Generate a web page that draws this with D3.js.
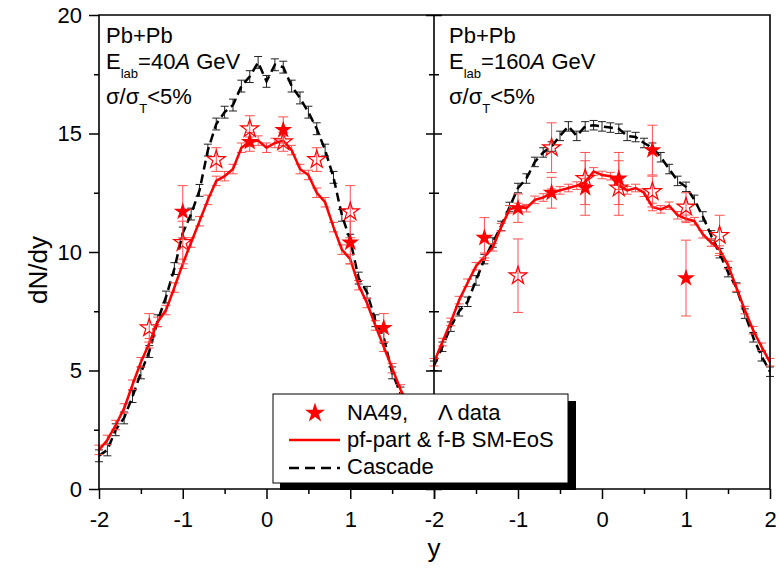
<!DOCTYPE html>
<html>
<head>
<meta charset="utf-8">
<script src="https://cdn.jsdelivr.net/npm/d3@7"></script>
<style>
body { margin: 0; background: #fff; }
svg text { font-family: "Liberation Sans", Arial, sans-serif; fill: #000; }
</style>
</head>
<body>
<div id="chart"></div>
<script>
//rapidity grid of the model curves
var rapidity = [-2.0, -1.9, -1.8, -1.7, -1.6, -1.5, -1.4, -1.3, -1.2, -1.1, -1.0, -0.9, -0.8, -0.7, -0.6, -0.5, -0.4, -0.3, -0.2, -0.1,
    0.0, 0.1, 0.2, 0.3, 0.4, 0.5, 0.6, 0.7, 0.8, 0.9, 1.0, 1.1, 1.2, 1.3, 1.4, 1.5, 1.6, 1.7, 1.8, 1.9, 2.0];

//40A GeV model curves
var cascade40 = [1.4, 1.65, 2.5, 3.0, 3.9, 4.9, 5.8, 7.1, 8.1, 9.3, 10.8, 11.6, 12.6, 14.3, 15.4, 15.9, 16.2, 17.0, 17.4, 18.0,
    17.2, 17.9, 17.8, 17.0, 16.5, 15.9, 15.2, 14.3, 13.15, 11.55, 10.5, 8.9, 8.3, 7.1, 6.4, 4.9, 4.05, 3.3, 2.6, 2.0, 1.5];
var pfpart40 = [1.65, 2.07, 2.7, 3.4, 4.4, 5.35, 6.15, 7.05, 7.55, 8.5, 9.5, 10.4, 11.3, 12.2, 13.0, 13.2, 13.5, 14.4, 14.65, 14.7,
    14.4, 14.6, 14.7, 14.3, 13.5, 13.25, 12.5, 12.1, 11.05, 10.1, 9.7, 8.6, 7.85, 6.9, 6.0, 5.1, 4.2, 3.5, 2.8, 2.2, 1.7];
var cascadeErr40 = 0.25;
var pfpartErr40 = 0.2;

//160A GeV model curves
var cascade160 = [5.2, 6.0, 6.85, 7.5, 7.9, 8.8, 9.7, 10.4, 11.1, 11.9, 12.7, 13.1, 13.8, 14.2, 14.45, 14.9, 15.3, 14.9, 15.3, 15.35,
    15.3, 15.25, 15.2, 14.9, 14.85, 14.6, 14.4, 14.0, 13.5, 13.0, 12.75, 12.2, 11.5, 10.7, 9.95, 9.15, 8.5, 7.4, 6.4, 5.6, 4.95];
var pfpart160 = [5.35, 6.2, 7.05, 7.97, 8.7, 9.4, 9.8, 10.2, 11.05, 11.8, 11.9, 11.85, 12.2, 12.3, 12.5, 12.6, 12.7, 12.8, 12.95, 13.4,
    13.25, 13.2, 12.8, 12.6, 12.7, 12.5, 11.9, 11.8, 11.95, 11.55, 11.4, 11.3, 10.75, 10.4, 10.1, 9.45, 8.5, 7.55, 6.7, 6.0, 5.35];
var cascadeErr160 = 0.2;
var pfpartErr160 = 0.16;

//NA49 Lambda data, 40A GeV (full = measured, open = reflected)
var na49FullY40 = [-1.0, -0.2, 0.2, 1.0, 1.4];
var na49FullV40 = [11.7, 14.65, 15.15, 10.4, 6.8];
var na49FullE40 = [1.1, 0.4, 0.55, 0.9, 0.6];
var na49OpenY40 = [-1.4, -1.0, -0.6, -0.2, 0.2, 0.6, 1.0];
var na49OpenV40 = [6.8, 10.4, 13.9, 15.2, 14.65, 13.9, 11.7];
var na49OpenE40 = [0.6, 0.9, 0.5, 0.55, 0.4, 0.5, 1.1];

//NA49 Lambda data, 160A GeV
var na49FullY160 = [-1.4, -1.0, -0.6, -0.2, 0.2, 0.6, 1.0];
var na49FullV160 = [10.6, 11.85, 12.5, 12.7, 13.1, 14.3, 8.9];
var na49FullE160 = [0.85, 0.6, 0.65, 1.15, 1.1, 1.05, 1.6];
var na49OpenY160 = [-1.0, -0.6, -0.2, 0.2, 0.6, 1.0, 1.4];
var na49OpenV160 = [9.0, 14.4, 13.1, 12.7, 12.55, 11.9, 10.7];
var na49OpenE160 = [1.55, 1.05, 1.1, 1.15, 0.65, 0.6, 0.85];

//ticks
var yTicks = [0, 5, 10, 15, 20];
var yMinorTicks = [2.5, 7.5, 12.5, 17.5];
var xTicks = [-2, -1, 0, 1, 2];
var xMinorTicks = [-1.5, -0.5, 0.5, 1.5];

var svg = d3.select("#chart").append("svg").attr("width", 779).attr("height", 577);

var y = d3.scaleLinear().domain([0, 20]).range([489, 15]);

var red = "#ff0000";
var redBar = "#ff5050";

//draw vertical error bars with caps
function error_bars(g, xs, vs, es, x, color, capW) {
    var rows = d3.zip(xs, vs, es);
    var bars = g.append("g").attr("stroke", color).attr("stroke-width", 1).attr("fill", "none");
    bars.selectAll("path")
        .data(rows)
        .enter()
        .append("path")
        .attr("d", function (d) {
            var px = x(d[0]), top = y(d[1] + d[2]), bot = y(d[1] - d[2]);
            return "M" + px + "," + top + "V" + bot +
                "M" + (px - capW / 2) + "," + top + "h" + capW +
                "M" + (px - capW / 2) + "," + bot + "h" + capW;
        });
}

function style_axis(a) {
    a.select(".domain").remove();
    a.selectAll(".tick line").attr("stroke", "#000").attr("stroke-width", 1.5);
    a.selectAll("text").attr("font-size", 22).attr("fill", "#000")
        .attr("font-family", "'Liberation Sans', Arial, sans-serif");
}

function draw_panel(x0, x1, cascade, cErr, pfpart, pErr, fullY, fullV, fullE, openY, openV, openE, energy, xLabels) {
    var x = d3.scaleLinear().domain([-2, 2]).range([x0, x1]);
    var g = svg.append("g");

    //cascade (black dashed)
    error_bars(g, rapidity, cascade, rapidity.map(function () { return cErr; }), x, "#222", 8);
    var line = d3.line()
        .x(function (d, i) { return x(rapidity[i]); })
        .y(function (d) { return y(d); });
    g.append("path")
        .datum(cascade)
        .attr("d", line)
        .attr("fill", "none")
        .attr("stroke", "#000")
        .attr("stroke-width", 2.5)
        .attr("stroke-dasharray", "9,5");

    //pf-part (red solid)
    error_bars(g, rapidity, pfpart, rapidity.map(function () { return pErr; }), x, redBar, 9);
    g.append("path")
        .datum(pfpart)
        .attr("d", line)
        .attr("fill", "none")
        .attr("stroke", red)
        .attr("stroke-width", 2.5);

    //NA49 stars
    error_bars(g, openY, openV, openE, x, redBar, 10);
    error_bars(g, fullY, fullV, fullE, x, redBar, 10);
    var star = d3.symbol().type(d3.symbolStar).size(100);
    g.selectAll(".open")
        .data(d3.zip(openY, openV))
        .enter()
        .append("path")
        .attr("class", "open")
        .attr("d", star)
        .attr("transform", function (d) { return "translate(" + x(d[0]) + "," + y(d[1]) + ")"; })
        .attr("fill", "none")
        .attr("stroke", red)
        .attr("stroke-width", 1.2);
    g.selectAll(".full")
        .data(d3.zip(fullY, fullV))
        .enter()
        .append("path")
        .attr("class", "full")
        .attr("d", star)
        .attr("transform", function (d) { return "translate(" + x(d[0]) + "," + y(d[1]) + ")"; })
        .attr("fill", red);

    //bottom axis
    var ax = svg.append("g").attr("transform", "translate(0,489)")
        .call(d3.axisBottom(x).tickValues(xTicks).tickSize(10).tickPadding(12)
            .tickFormat(function (d) { return xLabels.indexOf(d) >= 0 ? String(d) : ""; }));
    style_axis(ax);
    var axm = svg.append("g").attr("transform", "translate(0,489)")
        .call(d3.axisBottom(x).tickValues(xMinorTicks).tickSize(5).tickFormat(""));
    style_axis(axm);

    //panel text
    var tx = x0 + (x0 > 200 ? 15 : 7);
    svg.append("text").attr("x", tx).attr("y", 43).attr("font-size", 22).text("Pb+Pb");
    var t2 = svg.append("text").attr("x", tx).attr("y", 68.5).attr("font-size", 22);
    t2.append("tspan").text("E");
    t2.append("tspan").attr("font-size", 13).attr("dy", 9).text("lab");
    t2.append("tspan").attr("dy", -9).text("=" + energy);
    t2.append("tspan").attr("font-style", "italic").text("A");
    t2.append("tspan").text(" GeV");
    var t3 = svg.append("text").attr("x", tx).attr("y", 104).attr("font-size", 22);
    t3.append("tspan").text("σ/σ");
    t3.append("tspan").attr("font-size", 13).attr("dy", 9).text("T");
    t3.append("tspan").attr("dy", -9).text("<5%");
    return x;
}

draw_panel(99, 434, cascade40, cascadeErr40, pfpart40, pfpartErr40,
    na49FullY40, na49FullV40, na49FullE40, na49OpenY40, na49OpenV40, na49OpenE40, "40", [-2, -1, 0, 1]);
draw_panel(434, 770, cascade160, cascadeErr160, pfpart160, pfpartErr160,
    na49FullY160, na49FullV160, na49FullE160, na49OpenY160, na49OpenV160, na49OpenE160, "160", [-2, -1, 0, 1, 2]);

//y axes: outer left with labels, inner ticks on the shared divider
var ay = svg.append("g").attr("transform", "translate(99,0)")
    .call(d3.axisLeft(y).tickValues(yTicks).tickSize(10).tickPadding(7).tickFormat(d3.format("d")));
style_axis(ay);
var aym = svg.append("g").attr("transform", "translate(99,0)")
    .call(d3.axisLeft(y).tickValues(yMinorTicks).tickSize(5).tickFormat(""));
style_axis(aym);
[[yTicks, 8], [yMinorTicks, 5]].forEach(function (t) {
    style_axis(svg.append("g").attr("transform", "translate(434,0)")
        .call(d3.axisLeft(y).tickValues(t[0]).tickSize(t[1]).tickFormat("")));
    style_axis(svg.append("g").attr("transform", "translate(434,0)")
        .call(d3.axisRight(y).tickValues(t[0]).tickSize(t[1]).tickFormat("")));
});

//frames
svg.append("path")
    .attr("d", "M99,15H770V489H99Z M434,15V489")
    .attr("fill", "none")
    .attr("stroke", "#000")
    .attr("stroke-width", 1.6);

//axis titles
svg.append("text")
    .attr("transform", "translate(47,270) rotate(-90)")
    .attr("text-anchor", "middle")
    .attr("font-size", 26)
    .text("dN/dy");
svg.append("text")
    .attr("x", 434)
    .attr("y", 557)
    .attr("text-anchor", "middle")
    .attr("font-size", 26)
    .text("y");

//legend with shadow
var lg = svg.append("g");
lg.append("rect").attr("x", 280).attr("y", 401).attr("width", 296).attr("height", 89).attr("fill", "#000");
lg.append("rect").attr("x", 273).attr("y", 394).attr("width", 295).attr("height", 89)
    .attr("fill", "#fff").attr("stroke", "#000").attr("stroke-width", 1);
lg.append("path")
    .attr("d", d3.symbol().type(d3.symbolStar).size(125))
    .attr("transform", "translate(315,413)")
    .attr("fill", red);
var l1 = lg.append("text").attr("x", 347).attr("y", 420).attr("font-size", 22);
l1.append("tspan").text("NA49,");
l1.append("tspan").attr("x", 438).text("Λ data");
lg.append("line").attr("x1", 289).attr("x2", 340).attr("y1", 440).attr("y2", 440)
    .attr("stroke", red).attr("stroke-width", 2.5);
lg.append("text").attr("x", 347).attr("y", 447).attr("font-size", 22).text("pf-part & f-B SM-EoS");
lg.append("line").attr("x1", 289).attr("x2", 340).attr("y1", 468).attr("y2", 468)
    .attr("stroke", "#000").attr("stroke-width", 2.5).attr("stroke-dasharray", "10,6");
lg.append("text").attr("x", 347).attr("y", 474).attr("font-size", 22).text("Cascade");
</script>
</body>
</html>
